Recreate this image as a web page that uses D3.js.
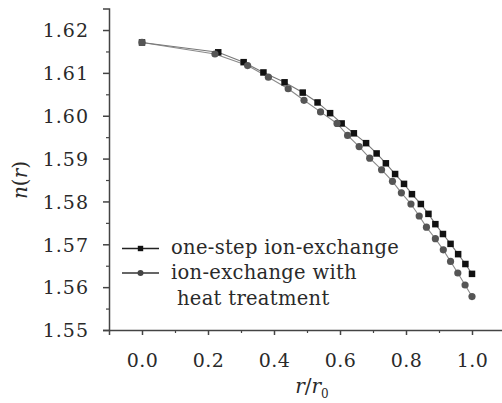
<!DOCTYPE html>
<html><head><meta charset="utf-8">
<script src="https://cdn.jsdelivr.net/npm/d3@7"></script>
<style>body{margin:0;background:#fff}svg{display:block}</style>
</head><body><svg id="c" width="502" height="403"></svg>
<script>
const squareX = [0, 0.231, 0.308, 0.368, 0.432, 0.487, 0.532, 0.570, 0.605, 0.642, 0.679, 0.711, 0.739, 0.767, 0.794, 0.818, 0.845, 0.868, 0.889, 0.912, 0.935, 0.958, 0.980, 1.0];
const squareY = [1.6171, 1.6148, 1.6125, 1.6101, 1.6078, 1.6054, 1.6031, 1.6006, 1.5982, 1.5959, 1.5936, 1.5912, 1.5889, 1.5864, 1.5841, 1.5817, 1.5794, 1.5771, 1.5747, 1.5724, 1.5701, 1.5677, 1.5654, 1.5631];
const circleX = [0, 0.221, 0.320, 0.383, 0.443, 0.491, 0.541, 0.591, 0.623, 0.658, 0.690, 0.726, 0.759, 0.786, 0.815, 0.840, 0.862, 0.889, 0.913, 0.935, 0.957, 0.979, 1.0];
const circleY = [1.6171, 1.6144, 1.6117, 1.6090, 1.6063, 1.6036, 1.6009, 1.5982, 1.5954, 1.5928, 1.5901, 1.5874, 1.5847, 1.5820, 1.5794, 1.5766, 1.5740, 1.5713, 1.5687, 1.5660, 1.5633, 1.5605, 1.5578];
const xTicks = [0.0, 0.2, 0.4, 0.6, 0.8, 1.0];
const yTicks = [1.55, 1.56, 1.57, 1.58, 1.59, 1.60, 1.61, 1.62];
const legendLabels = ["one-step ion-exchange", "ion-exchange with", "heat treatment"];

const FONT = "'DejaVu Serif', 'Liberation Serif', serif";
const svg = d3.select("#c");
const x = d3.scaleLinear().domain([-0.1, 1.1]).range([109, 505]);
const y = d3.scaleLinear().domain([1.55, 1.625]).range([330, 8.6]);

const axCol = "#444";
// X axis
const gx = svg.append("g").attr("transform", "translate(0,330)");
gx.call(d3.axisBottom(x).tickValues(xTicks).tickSize(5).tickFormat(d3.format(".1f")));
gx.attr("font-family", null).attr("font-size", null);
gx.select(".domain").attr("stroke", axCol).attr("stroke-width", 1.5);
gx.selectAll(".tick line").attr("stroke", axCol).attr("stroke-width", 1.5);
gx.selectAll(".tick text").attr("font-family", FONT).attr("font-size", 19).attr("letter-spacing", 0.4)
  .attr("fill", "#2a2a2a").attr("dy", "0").attr("y", 36.5);
const gxm = svg.append("g").attr("transform", "translate(0,330)");
gxm.call(d3.axisBottom(x).tickValues([0.1, 0.3, 0.5, 0.7, 0.9]).tickSize(3).tickFormat(""));
gxm.select(".domain").remove();
gxm.selectAll(".tick line").attr("stroke", axCol).attr("stroke-width", 1.2);

// Y axis
const gy = svg.append("g").attr("transform", "translate(109,0)");
gy.call(d3.axisLeft(y).tickValues(yTicks).tickSize(6).tickFormat(d3.format(".2f")).tickPadding(14));
gy.attr("font-family", null).attr("font-size", null);
gy.select(".domain").attr("stroke", axCol).attr("stroke-width", 1.5);
gy.selectAll(".tick line").attr("stroke", axCol).attr("stroke-width", 1.5);
gy.selectAll(".tick text").attr("font-family", FONT).attr("font-size", 19).attr("letter-spacing", 1)
  .attr("fill", "#2a2a2a").attr("dy", "0.36em");
const gym = svg.append("g").attr("transform", "translate(109,0)");
gym.call(d3.axisLeft(y).tickValues([1.555, 1.565, 1.575, 1.585, 1.595, 1.605, 1.615]).tickSize(3).tickFormat(""));
gym.select(".domain").remove();
gym.selectAll(".tick line").attr("stroke", axCol).attr("stroke-width", 1.2);

// Axis titles
const xt = svg.append("text").attr("x", 312).attr("y", 393).attr("text-anchor", "middle")
  .attr("font-family", FONT).attr("font-size", 20).attr("fill", "#2a2a2a");
xt.append("tspan").attr("font-style", "italic").text("r");
xt.append("tspan").text("/");
xt.append("tspan").attr("font-style", "italic").text("r");
xt.append("tspan").attr("dy", 5).attr("font-size", 12).text("0");

const yt = svg.append("text").attr("transform", "translate(27,180) rotate(-90)").attr("text-anchor", "middle")
  .attr("font-family", FONT).attr("font-size", 20).attr("fill", "#2a2a2a");
yt.append("tspan").attr("font-style", "italic").text("n");
yt.append("tspan").text("(");
yt.append("tspan").attr("font-style", "italic").text("r");
yt.append("tspan").text(")");

// Data
const sq = squareX.map((d, i) => [d, squareY[i]]);
const ci = circleX.map((d, i) => [d, circleY[i]]);
const line = d3.line().x(d => x(d[0])).y(d => y(d[1]));
svg.append("path").datum(ci).attr("d", line).attr("fill", "none").attr("stroke", "#8a8a8a").attr("stroke-width", 1.1);
svg.append("path").datum(sq).attr("d", line).attr("fill", "none").attr("stroke", "#777").attr("stroke-width", 1.1);
const s = 6.5;
svg.append("g").selectAll("rect").data(sq).join("rect")
  .attr("x", d => x(d[0]) - s / 2).attr("y", d => y(d[1]) - s / 2)
  .attr("width", s).attr("height", s).attr("fill", "#111");
svg.append("g").selectAll("circle").data(ci).join("circle")
  .attr("cx", d => x(d[0])).attr("cy", d => y(d[1])).attr("r", 3.6).attr("fill", "#555");

// Legend
const lg = svg.append("g");
const rows = [248.5, 273];
lg.append("line").attr("x1", 122).attr("x2", 159).attr("y1", rows[0]).attr("y2", rows[0]).attr("stroke", "#222").attr("stroke-width", 1.4);
lg.append("rect").attr("x", 140.5 - 2.7).attr("y", rows[0] - 2.7).attr("width", 5.4).attr("height", 5.4).attr("fill", "#111");
lg.append("line").attr("x1", 122).attr("x2", 159).attr("y1", rows[1]).attr("y2", rows[1]).attr("stroke", "#333").attr("stroke-width", 1.4);
lg.append("circle").attr("cx", 140.5).attr("cy", rows[1]).attr("r", 3).attr("fill", "#444");
const lt = [[171, 254], [171, 278.5], [177, 304.5]];
legendLabels.forEach((t, i) => {
  lg.append("text").attr("x", lt[i][0]).attr("y", lt[i][1]).attr("font-family", FONT)
    .attr("font-size", 19.5).attr("letter-spacing", 0.3).attr("fill", "#2a2a2a").text(t);
});
</script></body></html>
